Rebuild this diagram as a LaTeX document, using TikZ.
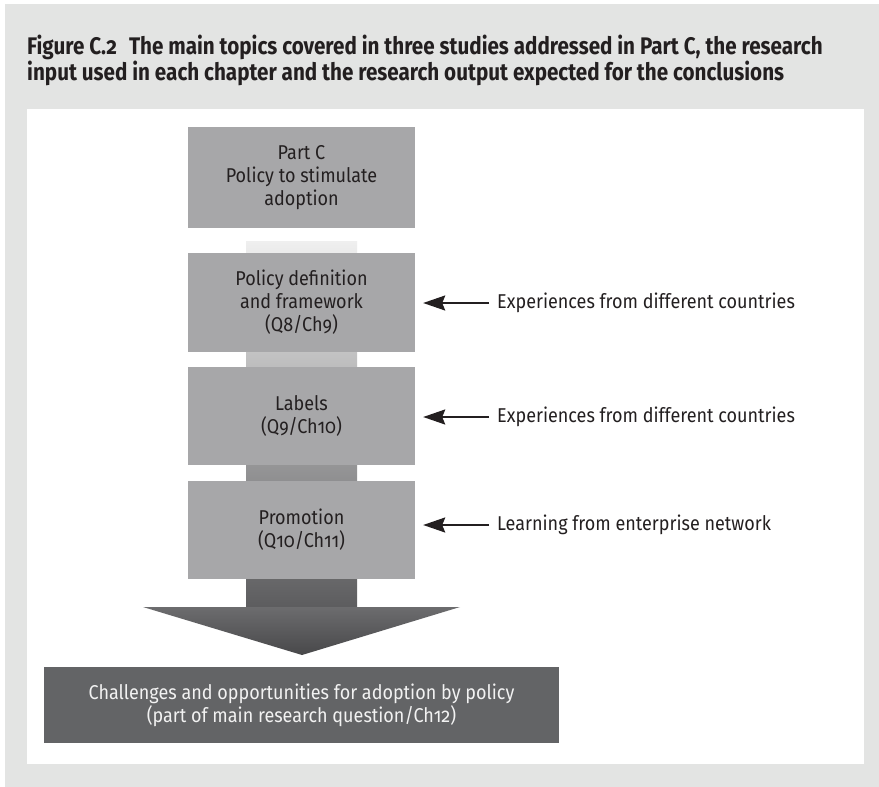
\documentclass[tikz,border=0pt]{standalone}
\usepackage{fontspec}
\setmainfont{Fira Sans}[Numbers=OldStyle, FakeStretch=0.9]
\newfontfamily\titlefont{Fira Sans}[Numbers=OldStyle, FakeStretch=0.86]
\usetikzlibrary{arrows.meta,shadings}
\definecolor{outergray}{HTML}{E3E4E3}
\definecolor{boxgray}{HTML}{A7A7A9}
\definecolor{darkbox}{HTML}{636466}
\definecolor{ink}{HTML}{231F20}
\definecolor{shafttop}{HTML}{EFEFEF}
\definecolor{shaftbot}{HTML}{5C5C5E}
\definecolor{headtop}{HTML}{6C6C6E}
\definecolor{headbot}{HTML}{48484A}
\tikzset{
  topicbox/.style={fill=boxgray, minimum width=227pt, inner sep=0pt, align=center,
    text=ink, font=\fontsize{20}{23}\selectfont},
  inputtext/.style={anchor=west, inner sep=0pt, text=ink, font=\fontsize{20}{23}\selectfont},
  inarrow/.style={-{Stealth[length=22pt,width=15pt,inset=3pt]}, line width=2pt, ink,
    shorten <=8pt, shorten >=8pt},
}
\begin{document}
\begin{tikzpicture}[x=1pt,y=-1pt]
\useasboundingbox (0,0) rectangle (879,787);
\fill[white] (0,0) rectangle (879,787);
\fill[outergray] (5,4) rectangle (879,787);
\fill[white] (27,109) rectangle (864,764);
% title
\node[anchor=north west, inner sep=0pt, align=left, text=ink,
  font=\titlefont\bfseries\fontsize{24}{26}\selectfont] (title) at (27,35)
  {Figure C.2\enspace The main topics covered in three studies addressed in Part C, the research\\
   input used in each chapter and the research output expected for the conclusions};
% gradient shaft and arrow head
\shade[top color=shafttop, bottom color=shaftbot] (246,241) rectangle (357,608);
\shade[top color=headtop, bottom color=headbot] (143,607) -- (460,607) -- (302,655) -- cycle;
% boxes
\node[topicbox, minimum height=101pt] (partc) at (301.5,177.5)
  {Part C\\Policy to stimulate\\adoption};
\node[topicbox, minimum height=99pt] (policy) at (301.5,302.5)
  {Policy definition\\and framework\\(Q8/Ch9)};
\node[topicbox, minimum height=98pt] (labels) at (301.5,416)
  {Labels\\(Q9/Ch10)};
\node[topicbox, minimum height=98pt] (promo) at (301.5,530)
  {Promotion\\(Q10/Ch11)};
\node[fill=darkbox, minimum width=515pt, minimum height=76pt, inner sep=0pt, align=center,
  text=white!95!black, font=\fontsize{20}{23}\selectfont] (out) at (301.5,705)
  {Challenges and opportunities for adoption by policy\\(part of main research question/Ch12)};
% inputs
\node[inputtext] (in1) at (497,303) {Experiences from different countries};
\node[inputtext] (in2) at (497,417) {Experiences from different countries};
\node[inputtext] (in3) at (497,525) {Learning from enterprise network};
\draw[inarrow] (in1.west) -- (in1.west -| policy.east);
\draw[inarrow] (in2.west) -- (in2.west -| labels.east);
\draw[inarrow] (in3.west) -- (in3.west -| promo.east);
\end{tikzpicture}
\end{document}
